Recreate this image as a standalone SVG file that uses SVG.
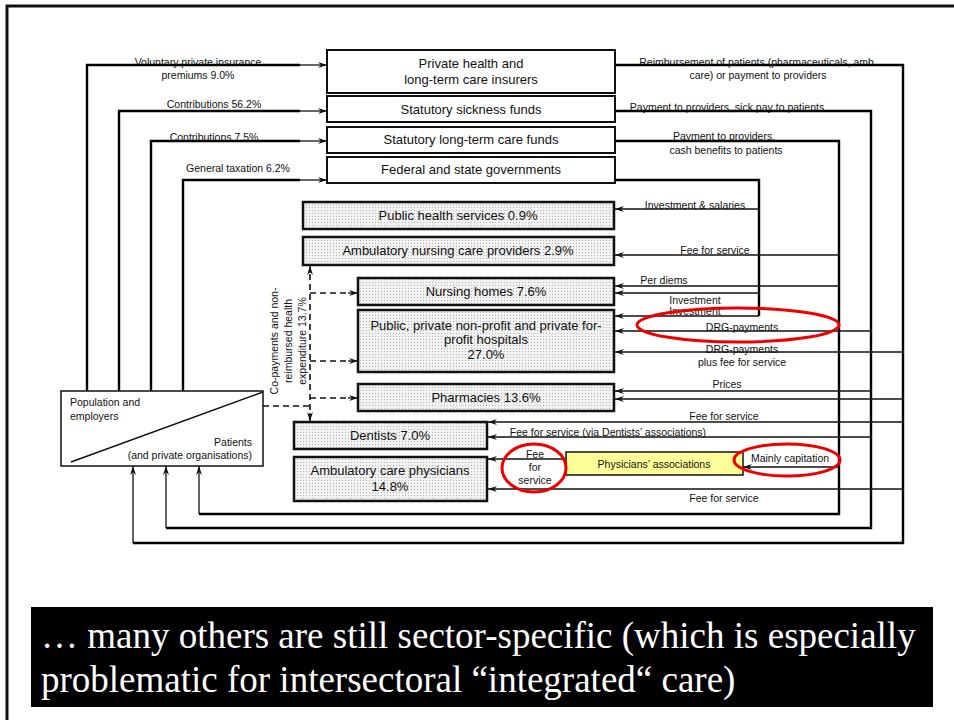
<svg xmlns="http://www.w3.org/2000/svg" width="954" height="720" viewBox="0 0 954 720">
<style>
text{font-family:"Liberation Sans",Arial,sans-serif;fill:#111}
.fund{fill:#fff;stroke:#111;stroke-width:2}
.prov{fill:url(#dots);stroke:#111;stroke-width:2.5}
.bt{font-size:13px;text-anchor:middle}
.lb{font-size:10.5px;text-anchor:middle}
.thick{fill:none;stroke:#000;stroke-width:2.4}
.thin{fill:none;stroke:#111;stroke-width:1.3;marker-end:url(#ah)}
.dash{fill:none;stroke:#111;stroke-width:1.6;stroke-dasharray:6,4}
.ring{fill:none;stroke:#e00;stroke-width:3}
.slide{font-family:"Liberation Serif","Times New Roman",serif;font-size:37px;fill:#fff}
</style>
<defs>
<pattern id="dots" width="3" height="3" patternUnits="userSpaceOnUse">
<rect width="3" height="3" fill="#f2f2f2"/><rect width="1" height="1" fill="#b4b4b4"/>
</pattern>
<marker id="ah" markerWidth="10" markerHeight="8" refX="9" refY="4" orient="auto" markerUnits="userSpaceOnUse">
<path d="M0,1 L9,4 L0,7 L3,4 z" fill="#111"/>
</marker>
</defs>
<rect width="954" height="720" fill="#fff"/>
<path d="M7,720 V6 H954" fill="none" stroke="#111" stroke-width="3"/>

<g id="connectors">
<path class="thick" d="M87,391 V65 H300"/><path class="thin" d="M299,65 H327"/>
<path class="thick" d="M119,391 V111 H300"/><path class="thin" d="M299,111 H327"/>
<path class="thick" d="M151,391 V141 H300"/><path class="thin" d="M299,141 H327"/>
<path class="thick" d="M183,391 V180 H300"/><path class="thin" d="M299,180 H327"/>
<path class="thick" d="M615,65 H903 V543 H133"/>
<path class="thick" d="M615,111 H871 V528 H166"/>
<path class="thick" d="M615,141 H839 V514 H199"/>
<path class="thick" d="M615,180 H759 V316"/>
<path class="thin" d="M133,543 V466"/>
<path class="thin" d="M166,528 V466"/>
<path class="thin" d="M199,514 V466"/>
<path class="thin" d="M759,209 H615"/>
<path class="thin" d="M839,255 H615"/>
<path class="thin" d="M839,286 H615"/>
<path class="thin" d="M759,293 H615"/>
<path class="thin" d="M759,316 H615"/>
<path class="thin" d="M871,331 H615"/>
<path class="thin" d="M903,352 H615"/>
<path class="thin" d="M871,391 H615"/>
<path class="thin" d="M903,399 H615"/>
<path class="thin" d="M903,422 H488"/>
<path class="thin" d="M871,437 H488"/>
<path class="thin" d="M839,467 H743"/>
<path class="thin" d="M566,459 H488"/>
<path class="thin" d="M903,489 H488"/>
<path class="dash" d="M263,406 H310"/>
<path class="dash" d="M310,420 V270"/>
<path d="M310,273 V266" stroke="#111" stroke-width="1.3" marker-end="url(#ah)"/>
<path d="M310,413 V421" stroke="#111" stroke-width="1.3" marker-end="url(#ah)"/>
<path class="dash" d="M310,293 H350"/><path d="M348,293 H358" stroke="#111" stroke-width="1.3" marker-end="url(#ah)"/>
<path class="dash" d="M310,361 H350"/><path d="M348,361 H358" stroke="#111" stroke-width="1.3" marker-end="url(#ah)"/>
<path class="dash" d="M310,398 H350"/><path d="M348,398 H358" stroke="#111" stroke-width="1.3" marker-end="url(#ah)"/>
<text class="lb" x="198" y="66">Voluntary private insurance</text>
<text class="lb" x="198" y="79">premiums 9.0%</text>
<text class="lb" x="214" y="108">Contributions 56.2%</text>
<text class="lb" x="214" y="141">Contributions 7.5%</text>
<text class="lb" x="238" y="172">General taxation 6.2%</text>
<text class="lb" x="758" y="66">Reimbursement of patients (pharmaceuticals, amb.</text>
<text class="lb" x="758" y="79">care) or payment to providers</text>
<text class="lb" x="727" y="111">Payment to providers, sick pay to patients</text>
<text class="lb" x="724" y="140">Payment to providers,</text>
<text class="lb" x="726" y="154">cash benefits to patients</text>
<text class="lb" x="695" y="209">Investment &amp; salaries</text>
<text class="lb" x="715" y="254">Fee for service</text>
<text class="lb" x="664" y="284">Per diems</text>
<text class="lb" x="695" y="304">Investment</text>
<text class="lb" x="695" y="315">Investment</text>
<text class="lb" x="742" y="331">DRG-payments</text>
<text class="lb" x="742" y="353">DRG-payments</text>
<text class="lb" x="742" y="366">plus fee for service</text>
<text class="lb" x="727" y="388">Prices</text>
<text class="lb" x="724" y="420">Fee for service</text>
<text class="lb" x="608" y="436">Fee for service (via Dentists’ associations)</text>
<text class="lb" x="790" y="462">Mainly capitation</text>
<text class="lb" x="535" y="458">Fee</text>
<text class="lb" x="535" y="471">for</text>
<text class="lb" x="535" y="484">service</text>
<text class="lb" x="724" y="502">Fee for service</text>
<text class="lb" transform="translate(278,341) rotate(-90)">Co-payments and non-</text>
<text class="lb" transform="translate(292,341) rotate(-90)">reimbursed health</text>
<text class="lb" transform="translate(306,341) rotate(-90)">expenditure 13.7%</text>
</g>

<g id="private-insurers"><rect class="fund" x="327" y="50" width="288" height="43"/>
<text class="bt" x="471" y="68">Private health and</text><text class="bt" x="471" y="84">long-term care insurers</text></g>
<g id="sickness-funds"><rect class="fund" x="327" y="96" width="288" height="26"/>
<text class="bt" x="471" y="114">Statutory sickness funds</text></g>
<g id="ltc-funds"><rect class="fund" x="327" y="127" width="288" height="26"/>
<text class="bt" x="471" y="144">Statutory long-term care funds</text></g>
<g id="governments"><rect class="fund" x="327" y="157" width="288" height="26"/>
<text class="bt" x="471" y="174">Federal and state governments</text></g>

<g id="public-health"><rect class="prov" x="303" y="202" width="311" height="27"/>
<text class="bt" x="458" y="220">Public health services 0.9%</text></g>
<g id="amb-nursing"><rect class="prov" x="303" y="237" width="311" height="28"/>
<text class="bt" x="458" y="255">Ambulatory nursing care providers 2.9%</text></g>
<g id="nursing-homes"><rect class="prov" x="358" y="278" width="256" height="27"/>
<text class="bt" x="486" y="296">Nursing homes 7.6%</text></g>
<g id="hospitals"><rect class="prov" x="358" y="310" width="256" height="62"/>
<text class="bt" x="486" y="330">Public, private non-profit and private for-</text>
<text class="bt" x="486" y="344">profit hospitals</text>
<text class="bt" x="486" y="359">27.0%</text></g>
<g id="pharmacies"><rect class="prov" x="358" y="384" width="256" height="27"/>
<text class="bt" x="486" y="402">Pharmacies 13.6%</text></g>
<g id="dentists"><rect class="prov" x="294" y="422" width="193" height="27"/>
<text class="bt" x="390" y="440">Dentists 7.0%</text></g>
<g id="physicians"><rect class="prov" x="294" y="457" width="193" height="44"/>
<text class="bt" x="390" y="475">Ambulatory care physicians</text>
<text class="bt" x="390" y="491">14.8%</text></g>
<g id="phys-assoc"><rect x="566" y="452" width="177" height="23" fill="#ffff99" stroke="#111" stroke-width="1.5"/>
<text class="lb" x="654" y="468">Physicians’ associations</text></g>

<g id="population"><rect x="61" y="391" width="202" height="75" fill="#fff" stroke="#111" stroke-width="1.5"/>
<path d="M71,462 L263,392" stroke="#111" stroke-width="1.5"/>
<text x="70" y="406" font-size="10.5">Population and</text>
<text x="70" y="420" font-size="10.5">employers</text>
<text x="252" y="446" font-size="10.5" text-anchor="end">Patients</text>
<text x="252" y="459" font-size="10.5" text-anchor="end">(and private organisations)</text></g>

<g id="highlights">
<ellipse class="ring" cx="738" cy="325" rx="101" ry="17"/>
<ellipse class="ring" cx="534" cy="468" rx="32" ry="24"/>
<ellipse class="ring" cx="787" cy="460" rx="53" ry="16"/>
</g>

<g id="caption"><rect x="31" y="607" width="902" height="100" fill="#000"/>
<text class="slide" x="41" y="648">… many others are still sector-specific (which is especially</text>
<text class="slide" x="41" y="692">problematic for intersectoral “integrated“ care)</text></g>
</svg>
